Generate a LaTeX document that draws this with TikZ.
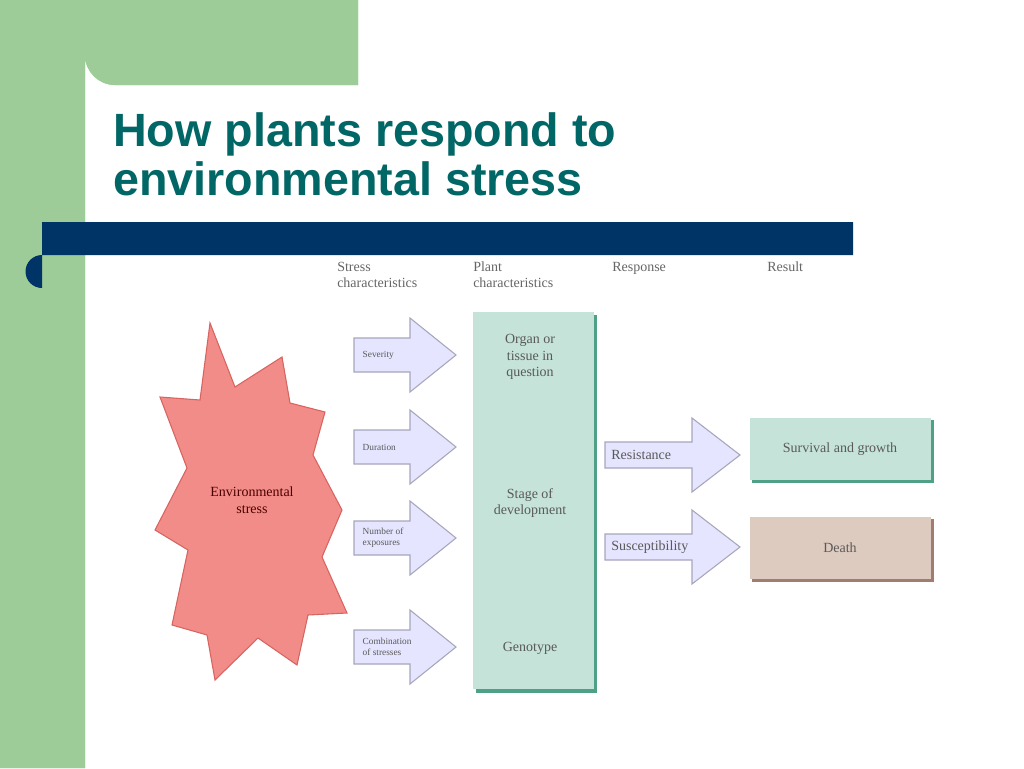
\documentclass[tikz,border=0pt]{standalone}
\usepackage{fontspec}
\setmainfont{Liberation Serif}
\newfontfamily\titlefont{Liberation Sans}
\begin{document}
\begin{tikzpicture}[x=0.75pt,y=-0.75pt,
  lbl/.style={text=black!65,align=center,font=\fontsize{10.5}{12.5}\selectfont},
  small/.style={text=black!65,align=left,font=\fontsize{7}{8}\selectfont},
  hdr/.style={text=black!60,align=left,anchor=north west,font=\fontsize{10.5}{12}\selectfont},
  arr/.style={fill=blue!10!white,draw=blue!25!black!35,line width=0.8pt},
  tealbox/.style={fill=green!20!cyan!10!white!85!teal},
]
\useasboundingbox (0,0) rectangle (1024,768);
\fill[white] (0,0) rectangle (1024,768);
% green background
\fill[green!35!black!10!white!60!green!80!gray] (0,0) -- (358,0) -- (358,85) -- (115,85) arc[start angle=90,end angle=180,radius=30] -- (85,768) -- (0,768) -- cycle;
\fill[fill={rgb,255:red,158;green,204;blue,152}] (0,0) -- (358,0) -- (358,85) -- (115,85) arc[start angle=90,end angle=180,radius=30] -- (85,768) -- (0,768) -- cycle;
% navy bar
\fill[fill={rgb,255:red,0;green,51;blue,102}] (42,222) -- (853,222) -- (853,255) -- (42,255) arc[start angle=270,end angle=90,radius=16.5] -- cycle;
% title
\node[anchor=base west,inner sep=0,text={rgb,255:red,0;green,102;blue,102},font=\titlefont\bfseries\fontsize{35}{37}\selectfont] (t1) at (113,146) {How plants respond to};
\node[anchor=base west,inner sep=0,text={rgb,255:red,0;green,102;blue,102},font=\titlefont\bfseries\fontsize{35}{37}\selectfont] (t2) at (113,195) {environmental stress};
% headers
\node[hdr,inner sep=0] (h1) at (337,262) {Stress\\characteristics};
\node[hdr,inner sep=0] (h2) at (473,262) {Plant\\characteristics};
\node[hdr,inner sep=0] (h3) at (612,262) {Response};
\node[hdr,inner sep=0] (h4) at (767,262) {Result};
% star
\draw[fill={rgb,255:red,242;green,140;blue,136},draw={rgb,255:red,215;green,100;blue,96},line width=0.8pt]
 (210,323)--(235,387)--(282,357)--(290,403)--(325,412)--(313,455)--(342,510)--(322,557)--(347,613)--(308,615)--(297,665)--(258,638)--(215,680)--(207,635)--(172,625)--(188,550)--(155,530)--(187,468)--(160,397)--(200,400)--cycle;
\node[lbl,text=black!70!red] (env) at (252,500) {Environmental\\stress};
% stress arrows
\foreach \y/\t/\n in {355/Severity/a1,447/Duration/a2,538/{Number of\\exposures}/a3,647/{Combination\\of stresses}/a4}{
  \draw[arr] (354,\y-17)--(410,\y-17)--(410,\y-37)--(456,\y)--(410,\y+37)--(410,\y+17)--(354,\y+17)--cycle;
  \node[small,anchor=west] (\n) at (358,\y) {\t};
}
% plant box
\fill[fill={rgb,255:red,80;green,160;blue,135}] (476,315) rectangle (597,693);
\fill[fill={rgb,255:red,197;green,227;blue,216}] (473,312) rectangle (594,689);
\node[lbl] (p1) at (530,357) {Organ or\\tissue in\\question};
\node[lbl] (p2) at (530,503) {Stage of\\development};
\node[lbl] (p3) at (530,648) {Genotype};
% response arrows
\foreach \y/\t/\n in {455/Resistance/r1,547/Susceptibility/r2}{
  \draw[arr] (605,\y-13)--(692,\y-13)--(692,\y-37)--(740,\y)--(692,\y+37)--(692,\y+13)--(605,\y+13)--cycle;
  \node[lbl,anchor=west,inner sep=0] (\n) at (611,\y) {\t};
}
% result boxes
\fill[fill={rgb,255:red,80;green,160;blue,135}] (752,420) rectangle (934,483);
\fill[fill={rgb,255:red,197;green,227;blue,216}] (750,418) rectangle (931,480);
\node[lbl] (s1) at (840,449) {Survival and growth};
\fill[fill={rgb,255:red,160;green,125;blue,110}] (752,519) rectangle (934,582);
\fill[fill={rgb,255:red,222;green,203;blue,192}] (750,517) rectangle (931,579);
\node[lbl] (s2) at (840,548) {Death};
\end{tikzpicture}
\end{document}
